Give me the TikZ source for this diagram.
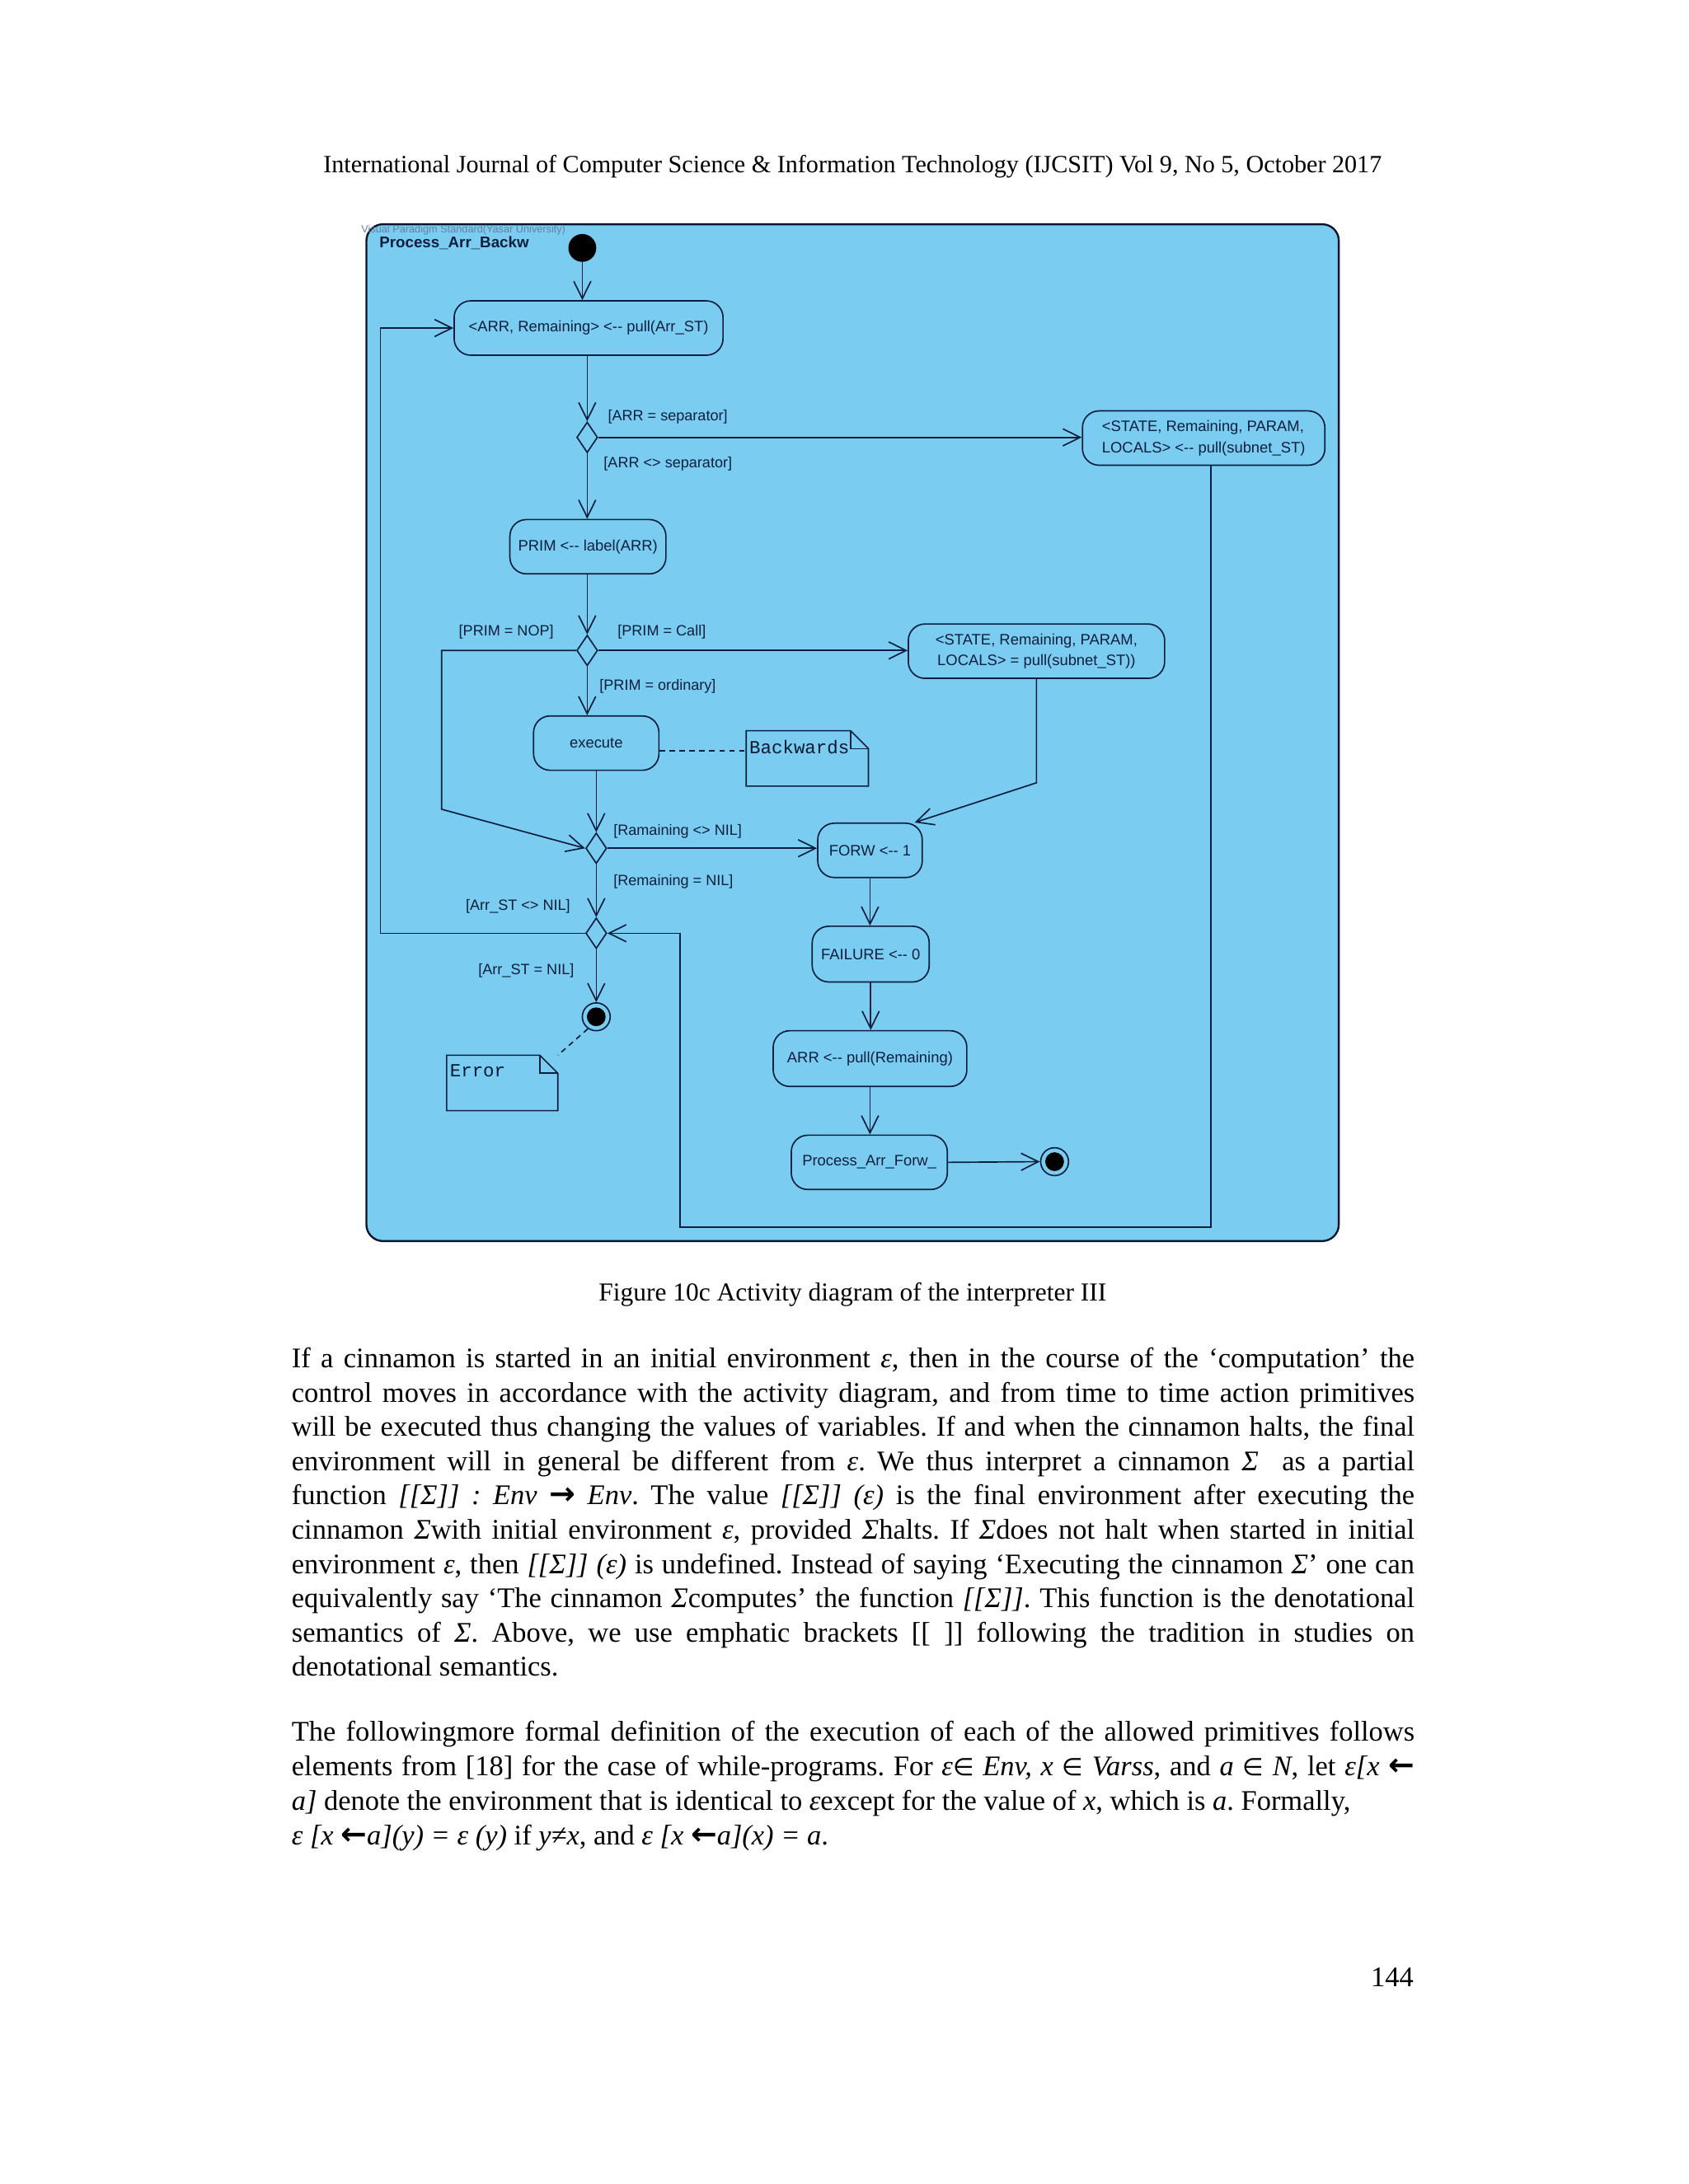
\documentclass[tikz,border=0pt]{standalone}
\usepackage{fontspec}
\setmainfont{Liberation Serif}
\newfontfamily\diagfont{Liberation Sans}
\newfontfamily\notefont{Liberation Mono}
\newfontfamily\symfont[Scale=0.85]{DejaVu Sans}
\newfontfamily\arrowfont[Scale=1.1]{DejaVu Sans}
\usetikzlibrary{arrows.meta,shapes.geometric}
\newdimen\dimU \dimU=0.505pt
\definecolor{diagfill}{RGB}{122,205,241}
\definecolor{ink}{RGB}{14,30,62}
\definecolor{wmark}{RGB}{100,130,160}
\newcommand\bodyfont{\fontsize{10.3}{12}\selectfont\frenchspacing}
\newcommand\jline[3]{\node[bodyline] (#1) at (209,#2) {\makebox[806\dimU][s]{#3}};}
\newcommand\nline[3]{\node[bodyline] (#1) at (209,#2) {#3};}
\newcommand\rarr{{\arrowfont\bfseries →}}
\newcommand\larr{{\arrowfont\bfseries ←}}
\tikzset{
  act/.style 2 args={draw=ink, line width=0.5pt, fill=diagfill, rectangle, rounded corners=6pt,
    minimum width=#1\dimU, minimum height=#2\dimU, inner sep=0pt, align=center,
    text=ink, font=\diagfont\fontsize{5.5}{7.6}\selectfont},
  decision/.style={draw=ink, line width=0.5pt, fill=diagfill, diamond, minimum width=15\dimU,
    minimum height=22\dimU, inner sep=0pt},
  initnode/.style={circle, fill=black, minimum size=20\dimU, inner sep=0pt},
  finalnode/.style={circle, draw=ink, line width=0.5pt, fill=diagfill, minimum size=20\dimU, inner sep=0pt,
    path picture={\fill[black] (path picture bounding box.center) circle (3.4pt);}},
  notebox/.style 2 args={rectangle, minimum width=#1\dimU, minimum height=#2\dimU, inner sep=0pt},
  notetext/.style={anchor=north west, inner xsep=1pt, inner ysep=0pt, yshift=-3.2pt, text=ink!80!black, font=\notefont\fontsize{6.7}{7}\selectfont},
  flow/.style={draw=ink, line width=0.5pt, -{Straight Barb[length=6.3pt,width=6.2pt,line width=0.5pt]}},
  plain/.style={draw=ink, line width=0.5pt},
  guard/.style={anchor=west, inner sep=0pt, text=ink, font=\diagfont\fontsize{5.4}{6}\selectfont},
  bodyline/.style={anchor=base west, inner sep=0pt, font=\bodyfont},
}
\begin{document}
\begin{tikzpicture}[x=0.505pt, y=-0.505pt]
\fill[white] (0,0) rectangle (1212,1568);
\useasboundingbox (0,0) rectangle (1212,1568);

% page header
\node[anchor=base, inner sep=0pt, font=\fontsize{9.0}{11}\selectfont] (header) at (612,124)
  {International Journal of Computer Science \& Information Technology (IJCSIT) Vol 9, No 5, October 2017};

% diagram frame
\draw[draw=ink!70!black, line width=0.7pt, fill=diagfill, rounded corners=6pt] (263,161) rectangle (961,891);
\node[anchor=base west, inner sep=0pt, text=wmark, font=\diagfont\fontsize{3.8}{4}\selectfont] (wm) at (259,167)
  {Visual Paradigm Standard(Yasar University)};
\node[anchor=base west, inner sep=0pt, text=ink, font=\diagfont\bfseries\fontsize{5.6}{6}\selectfont] (title) at (272,178)
  {Process\_Arr\_Backw};

% nodes
\node[initnode] (init) at (418,178) {};
\node[act={193}{39}] (A) at (422.5,235.5) {<ARR, Remaining> <-- pull(Arr\_ST)};
\node[decision] (D1) at (421.5,314) {};
\node[act={174}{39}, align=left] (B1) at (864,314.5) {<STATE, Remaining, PARAM,\\LOCALS> <-- pull(subnet\_ST)};
\node[act={112}{39}] (P) at (422,392.5) {PRIM <-- label(ARR)};
\node[decision] (D2) at (421.5,467) {};
\node[act={184}{39}] (B2) at (744,467.5) {<STATE, Remaining, PARAM,\\LOCALS> = pull(subnet\_ST))};
\node[act={90}{39}] (E) at (428,533.5) {execute};
\node[notebox={87}{39}] (N1) at (579.5,544.5) {};
\node[notetext] (N1t) at (N1.north west) {Backwards};
\node[decision] (D3) at (428,609) {};
\node[act={75}{39}] (F) at (624.5,610.5) {FORW <-- 1};
\node[decision] (D4) at (428,670) {};
\node[finalnode] (fin1) at (428,730) {};
\node[notebox={79}{39}] (N2) at (360.5,777.5) {};
\node[notetext] (N2t) at (N2.north west) {Error};
\node[act={84}{40}] (G) at (625,685) {FAILURE <-- 0};
\node[act={139}{40}] (H) at (624.5,760) {ARR <-- pull(Remaining)};
\node[act={112}{39}] (I) at (624,834.5) {Process\_Arr\_Forw\_};
\node[finalnode] (fin2) at (757,834) {};

% note outlines (folded corner)
\foreach \n in {N1,N2}{
  \draw[plain] (\n.north west) -- ([xshift=-6.5pt]\n.north east) -- ([yshift=-6.5pt]\n.north east)
     -- (\n.south east) -- (\n.south west) -- cycle;
  \draw[plain] ([xshift=-6.5pt]\n.north east) -- ([xshift=-6.5pt,yshift=-6.5pt]\n.north east)
     -- ([yshift=-6.5pt]\n.north east);
}

% guard labels
\node[guard] (g1) at (436,299) {[ARR = separator]};
\node[guard] (g2) at (433,333) {[ARR <> separator]};
\node[guard] (g3) at (329,454) {[PRIM = NOP]};
\node[guard] (g4) at (443,454) {[PRIM = Call]};
\node[guard] (g5) at (430,493) {[PRIM = ordinary]};
\node[guard] (g6) at (440,597) {[Ramaining <> NIL]};
\node[guard] (g7) at (440,633) {[Remaining = NIL]};
\node[guard] (g8) at (334,651) {[Arr\_ST <> NIL]};
\node[guard] (g9) at (343,697) {[Arr\_ST = NIL]};

% helper coordinates
\coordinate (nopA) at (317,467);
\coordinate (nopB) at (317,581);
\coordinate (loopL) at (273,670);
\coordinate (retA) at (869,881);
\coordinate (retB) at (488,881);
\coordinate (callB) at (744,562);

% connectors
\draw[flow] (init) -- (init |- A.north);
\draw[flow] (A.south -| D1) -- (D1.north);
\draw[flow] (D1.east) -- (D1.east -| B1.west);
\draw[flow] (D1.south) -- (D1.south |- P.north);
\draw[flow] (P.south -| D2) -- (D2.north);
\draw[flow] (D2.east) -- (D2.east -| B2.west);
\draw[flow] (D2.south) -- (D2.south |- E.north);
\draw[flow] (D2.west) -- (nopA) -- (nopB) -- (D3.west);
\draw[plain, dashed, dash pattern=on 2pt off 1.6pt] ([yshift=-2.8pt]E.east) -- ([yshift=-2.8pt]E.east -| N1.west);
\draw[flow] (E.south -| D3) -- (D3.north);
\draw[flow] (D3.east) -- (D3.east -| F.west);
\draw[flow] (D3.south) -- (D4.north);
\draw[flow] (D4.west) -- (loopL) -- (loopL |- A.west) -- (A.west);
\draw[flow] (B1.south -| retA) -- (retA) -- (retB) -- (retB |- D4.east) -- (D4.east);
\draw[flow] (B2.south) -- (callB) -- ([xshift=-3pt]F.north east);
\draw[flow] (D4.south) -- (fin1.north);
\draw[plain, dashed, dash pattern=on 2pt off 1.6pt] (fin1.235) -- (N2.north east);
\draw[flow] (F.south) -- (F.south |- G.north);
\draw[flow] (G.south) -- (G.south |- H.north);
\draw[flow] (H.south) -- (H.south |- I.north);
\draw[flow] (I.east) -- (fin2.west);

% caption
\node[anchor=base, inner sep=0pt, font=\fontsize{9.4}{12}\selectfont] (caption) at (612,934)
  {Figure 10c Activity diagram of the interpreter III};

% paragraph 1
\jline{p1a}{982}{If a cinnamon is started in an initial environment \textit{ε}, then in the course of the ‘computation’ the}
\jline{p1b}{1006.6}{control moves in accordance with the activity diagram, and from time to time action primitives}
\jline{p1c}{1031.2}{will be executed thus changing the values of variables. If and when the cinnamon halts, the final}
\jline{p1d}{1055.8}{environment will in general be different from \textit{ε}. We thus interpret a cinnamon \textit{Σ}\ \ as a partial}
\jline{p1e}{1080.4}{function \textit{[[Σ]] : Env} \rarr\ \textit{Env}. The value \textit{[[Σ]] (ε)} is the final environment after executing the}
\jline{p1f}{1105}{cinnamon \textit{Σ}with initial environment \textit{ε}, provided \textit{Σ}halts. If \textit{Σ}does not halt when started in initial}
\jline{p1g}{1129.6}{environment \textit{ε}, then \textit{[[Σ]] (ε)} is undefined. Instead of saying ‘Executing the cinnamon \textit{Σ}’ one can}
\jline{p1h}{1154.2}{equivalently say ‘The cinnamon \textit{Σ}computes’ the function \textit{[[Σ]]}. This function is the denotational}
\jline{p1i}{1178.8}{semantics of \textit{Σ}. Above, we use emphatic brackets [[ ]] following the tradition in studies on}
\nline{p1j}{1203.4}{denotational semantics.}

% paragraph 2
\jline{p2a}{1250}{The followingmore formal definition of the execution of each of the allowed primitives follows}
\jline{p2b}{1274.8}{elements from [18] for the case of while-programs. For \textit{ε}{\symfont ∈} \textit{Env, x} {\symfont ∈} \textit{Varss}, and \textit{a} {\symfont ∈} \textit{N}, let \textit{ε[x} \larr}
\nline{p2c}{1299.6}{\textit{a]} denote the environment that is identical to \textit{ε}except for the value of \textit{x}, which is \textit{a}. Formally,}
\nline{p2d}{1324.4}{\textit{ε [x} \larr\textit{a](y) = ε (y)} if \textit{y≠x}, and \textit{ε [x} \larr\textit{a](x) = a}.}

% page number
\node[anchor=base east, inner sep=0pt, font=\bodyfont] (pagenum) at (1015,1426) {144};
\end{tikzpicture}
\end{document}
